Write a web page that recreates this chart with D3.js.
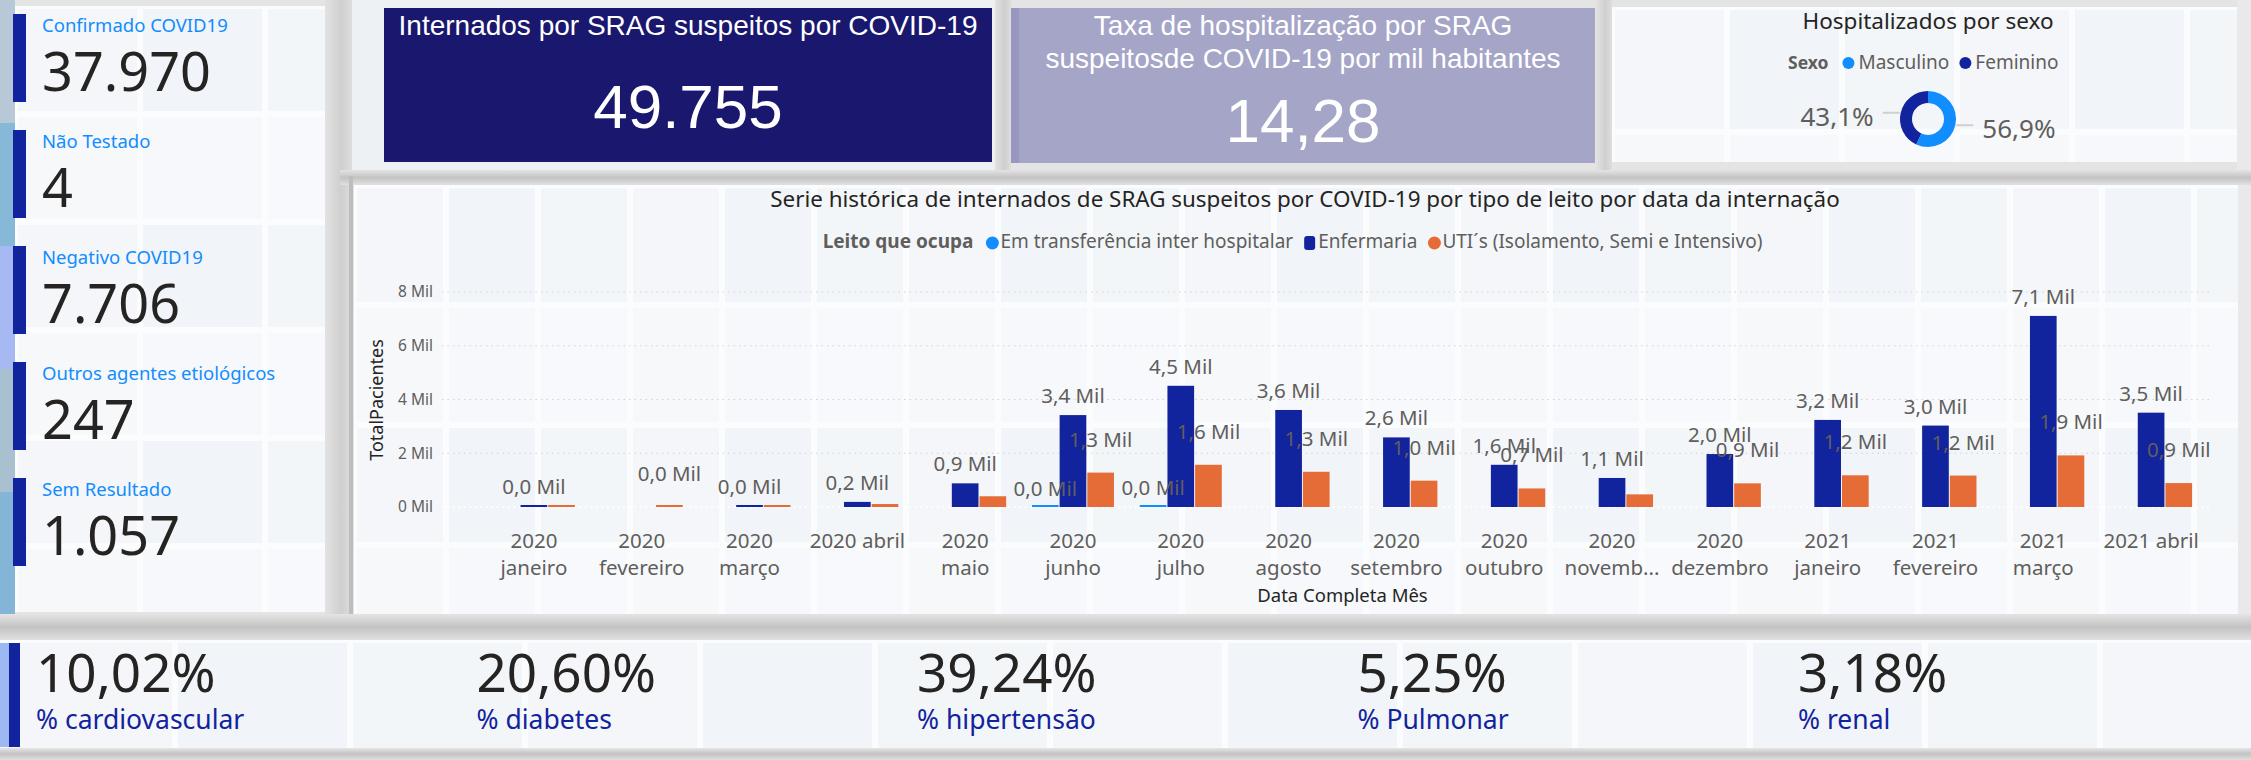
<!DOCTYPE html>
<html><head><meta charset="utf-8">
<script src="https://cdn.jsdelivr.net/npm/d3@7"></script>
<style>body{margin:0;background:#e4e4e4;overflow:hidden;} svg{display:block;}</style>
</head><body><svg id="c" width="2251" height="760"></svg>
<script>
// ---------------- DATA ----------------
const months = ["2020\njaneiro","2020\nfevereiro","2020\nmarço","2020 abril","2020\nmaio","2020\njunho","2020\njulho","2020\nagosto","2020\nsetembro","2020\noutubro","2020\nnovemb...","2020\ndezembro","2021\njaneiro","2021\nfevereiro","2021\nmarço","2021 abril"];
const seriesNames = ["Em transferência inter hospitalar","Enfermaria","UTI´s (Isolamento, Semi e Intensivo)"];
const transferValues   = [0, 0, 0, 0, 0, 15, 20, 0, 0, 0, 0, 0, 0, 0, 0, 0];
const enfermariaValues = [30, 0, 40, 190, 880, 3420, 4510, 3610, 2590, 1570, 1080, 1970, 3240, 3030, 7110, 3510];
const utiValues        = [20, 15, 30, 110, 400, 1280, 1570, 1310, 980, 690, 470, 880, 1180, 1170, 1920, 890];
// months (index) whose data label is visible in the reference
const transferLabelShown   = [5, 6];
const enfermariaLabelShown = [0, 2, 3, 4, 5, 6, 7, 8, 9, 10, 11, 12, 13, 14, 15];
const utiLabelShown        = [1, 5, 6, 7, 8, 9, 11, 12, 13, 14, 15];
const yTicks = [0, 2000, 4000, 6000, 8000];

const statLabels = ["Confirmado COVID19","Não Testado","Negativo COVID19","Outros agentes etiológicos","Sem Resultado"];
const statValues = [37970, 4, 7706, 247, 1057];

const kpiInternadosTitle = "Internados por SRAG suspeitos por COVID-19";
const kpiInternadosValue = 49755;
const kpiTaxaTitle = ["Taxa de hospitalização por SRAG","suspeitosde COVID-19 por mil habitantes"];
const kpiTaxaValue = 14.28;

const sexLabels = ["Masculino","Feminino"];
const sexValues = [56.9, 43.1];

const comorbLabels = ["% cardiovascular","% diabetes","% hipertensão","% Pulmonar","% renal"];
const comorbValues = [10.02, 20.60, 39.24, 5.25, 3.18];

// ---------------- STYLE ----------------
const SEGOE = "'Noto Sans','Open Sans',sans-serif";
const ARIAL = "'Liberation Sans',Arial,sans-serif";
const C_ENF = "#12239E", C_UTI = "#E66C37", C_TRF = "#118DFF";
const br = d3.formatLocale({decimal: ",", thousands: ".", grouping: [3], currency: ["R$", ""]});
const fInt = br.format(",d");
const f2 = br.format(",.2f");
const f1 = br.format(",.1f");

const svg = d3.select("#c");
const W = 2251, H = 760;

// ---------------- BACKGROUND ----------------
const defs = svg.append("defs");
const gH = defs.append("linearGradient").attr("id","bandH").attr("x1",0).attr("x2",0).attr("y1",0).attr("y2",1);
gH.append("stop").attr("offset","0").attr("stop-color","#e4e4e4");
gH.append("stop").attr("offset","0.5").attr("stop-color","#c3c3c3");
gH.append("stop").attr("offset","1").attr("stop-color","#e0e0e0");
const gV = defs.append("linearGradient").attr("id","bandV").attr("x1",0).attr("x2",1).attr("y1",0).attr("y2",0);
gV.append("stop").attr("offset","0").attr("stop-color","#e2e2e2");
gV.append("stop").attr("offset","0.6").attr("stop-color","#cfcfcf");
gV.append("stop").attr("offset","1").attr("stop-color","#dedede");

svg.append("rect").attr("width",W).attr("height",H).attr("fill","#e4e4e4");

const tilePalette = ["#f4f6fa","#f8f9fc","#f1f4f8","#f6f8fa","#f3f6f8","#f7f8fb"];
function tiles(x0, y0, w, h, cw, ch) {
  const g = svg.append("g");
  g.append("rect").attr("x",x0).attr("y",y0).attr("width",w).attr("height",h).attr("fill","#fbfcfd");
  const cells = [];
  for (let i = 0; i * cw < w; i++) for (let j = 0; j * ch < h; j++) cells.push({i, j});
  g.selectAll("rect.t").data(cells).join("rect").attr("class","t")
    .attr("x", d => x0 + d.i * cw + 3)
    .attr("y", d => y0 + d.j * ch + 3)
    .attr("width", d => Math.max(0, Math.min(cw - 6, x0 + w - (x0 + d.i * cw + 3))))
    .attr("height", d => Math.max(0, Math.min(ch - 6, y0 + h - (y0 + d.j * ch + 3))))
    .attr("fill", d => tilePalette[(d.i * 2 + d.j * 3) % tilePalette.length]);
}

// left strip
const stripColors = ["#b8c8d6","#86b8d8","#a6b9f3","#a9c0d0","#84b5d6"];
svg.selectAll("rect.strip").data(stripColors).join("rect").attr("class","strip")
  .attr("x",0).attr("y",(d,i)=>i*123).attr("width",15).attr("height",123).attr("fill",d=>d);
tiles(15, 6, 310, 606, 125, 108);
svg.append("rect").attr("x",325).attr("y",0).attr("width",27).attr("height",640).attr("fill","url(#bandV)");
// top row
svg.append("rect").attr("x",352).attr("y",0).attr("width",645).attr("height",172).attr("fill","#eef1f4");
svg.append("rect").attr("x",995).attr("y",0).attr("width",16).attr("height",172).attr("fill","url(#bandV)");
svg.append("rect").attr("x",1596).attr("y",0).attr("width",16).attr("height",172).attr("fill","url(#bandV)");
tiles(1612, 7, 625, 155, 115, 125);
svg.append("rect").attr("x",2237).attr("y",0).attr("width",14).attr("height",616).attr("fill","#e9e9e9");
// bands
svg.append("rect").attr("x",340).attr("y",170).attr("width",W-340).attr("height",15).attr("fill","url(#bandH)");
tiles(354, 185, 1884, 431, 92, 120);
svg.append("rect").attr("x",349).attr("y",176).attr("width",4).attr("height",462).attr("fill","#bdbdbd");
svg.append("rect").attr("x",0).attr("y",614).attr("width",W).attr("height",26).attr("fill","url(#bandH)");
tiles(0, 640, W, 108, 175, 120);
svg.append("rect").attr("x",0).attr("y",748).attr("width",W).attr("height",12).attr("fill","url(#bandH)");

// ---------------- LEFT STAT CARDS ----------------
const cards = svg.append("g").selectAll("g").data(statLabels).join("g")
  .attr("transform",(d,i)=>`translate(0,${14 + 116*i})`);
cards.append("rect").attr("x",13).attr("y",0).attr("width",13).attr("height",88).attr("fill",C_ENF);
cards.append("text").attr("x",42).attr("y",18).attr("font-family",SEGOE).attr("font-size",18.5)
  .attr("fill","#118DFF").text(d=>d);
cards.append("text").attr("x",42).attr("y",77).attr("font-family",SEGOE).attr("font-size",54)
  .attr("fill","#252423").text((d,i)=>fInt(statValues[i]));

// ---------------- KPI CARDS ----------------
svg.append("rect").attr("x",384).attr("y",8).attr("width",608).attr("height",154).attr("fill","#1a186e");
svg.append("text").attr("x",688).attr("y",35).attr("text-anchor","middle").attr("font-family",ARIAL)
  .attr("font-size",28).attr("fill","#fff").text(kpiInternadosTitle);
svg.append("text").attr("x",688).attr("y",128).attr("text-anchor","middle").attr("font-family",ARIAL)
  .attr("font-size",62).attr("fill","#fff").text(fInt(kpiInternadosValue));

svg.append("rect").attr("x",1011).attr("y",8).attr("width",584).attr("height",155).attr("fill","#a5a5c8");
svg.append("rect").attr("x",1011).attr("y",8).attr("width",8).attr("height",155).attr("fill","#9797bf");
svg.append("text").attr("x",1303).attr("y",35).attr("text-anchor","middle").attr("font-family",ARIAL)
  .attr("font-size",28).attr("fill","#fff")
  .selectAll("tspan").data(kpiTaxaTitle).join("tspan").attr("x",1303).attr("dy",(d,i)=>i?33:0).text(d=>d);
svg.append("text").attr("x",1303).attr("y",142).attr("text-anchor","middle").attr("font-family",ARIAL)
  .attr("font-size",62).attr("fill","#fff").text(f2(kpiTaxaValue));

// ---------------- DONUT ----------------
svg.append("text").attr("x",1928).attr("y",29).attr("text-anchor","middle").attr("font-family",SEGOE)
  .attr("font-size",22.5).attr("fill","#252423").text("Hospitalizados por sexo");
{
  const lg = svg.append("g");
  let x = 1788;
  const t0 = lg.append("text").attr("x",x).attr("y",69).attr("font-family",SEGOE).attr("font-size",17.5)
    .attr("font-weight","bold").attr("fill","#605e5c").text("Sexo");
  x += t0.node().getComputedTextLength() + 14;
  const sexColors = [C_TRF, C_ENF];
  sexLabels.forEach((s,i) => {
    lg.append("circle").attr("cx",x+6).attr("cy",63).attr("r",6).attr("fill",sexColors[i]);
    const t = lg.append("text").attr("x",x+16).attr("y",69).attr("font-family",SEGOE).attr("font-size",19)
      .attr("fill","#605e5c").text(s);
    x += 16 + t.node().getComputedTextLength() + 10;
  });
  const cx = 1928, cy = 119;
  const pie = d3.pie().sort(null).value(d=>d)(sexValues);
  const arc = d3.arc().innerRadius(16).outerRadius(28);
  const dg = svg.append("g").attr("transform",`translate(${cx},${cy})`);
  dg.selectAll("path").data(pie).join("path").attr("d",arc).attr("fill",(d,i)=>sexColors[i]);
  const edge = d3.arc().innerRadius(29).outerRadius(29);
  pie.forEach((d,i) => {
    const [px,py] = edge.centroid(d);
    const dir = px >= 0 ? 1 : -1;
    dg.append("line").attr("x1",px).attr("y1",py).attr("x2",px+dir*17).attr("y2",py)
      .attr("stroke","#cfcfcf").attr("stroke-width",2);
    dg.append("text").attr("x",px+dir*26).attr("y",py+13).attr("text-anchor",dir>0?"start":"end")
      .attr("font-family",SEGOE).attr("font-size",26).attr("fill","#605e5c").text(f1(d.data)+"%");
  });
}

// ---------------- BAR CHART ----------------
svg.append("text").attr("x",1305).attr("y",207).attr("text-anchor","middle").attr("font-family",SEGOE)
  .attr("font-size",22.4).attr("fill","#252423")
  .text("Serie histórica de internados de SRAG suspeitos por COVID-19 por tipo de leito por data da internação");

// legend
{
  const lg = svg.append("g");
  const legendColors = [C_TRF, C_ENF, C_UTI];
  const t0 = lg.append("text").attr("y",248).attr("font-family",SEGOE).attr("font-size",19)
    .attr("font-weight","bold").attr("fill","#605e5c").text("Leito que ocupa");
  let x = t0.node().getComputedTextLength() + 13;
  t0.attr("x",0);
  seriesNames.forEach((s,i) => {
    if (i === 1) lg.append("rect").attr("x",x).attr("y",236).attr("width",11).attr("height",14).attr("rx",3).attr("fill",legendColors[i]);
    else lg.append("circle").attr("cx",x+6).attr("cy",243).attr("r",6.5).attr("fill",legendColors[i]);
    const t = lg.append("text").attr("x",x+14).attr("y",248).attr("font-family",SEGOE).attr("font-size",19)
      .attr("fill","#605e5c").text(s);
    x += 14 + t.node().getComputedTextLength() + 11;
  });
  lg.attr("transform",`translate(${1298 - x/2},0)`);
}

const x = d3.scaleBand().domain(months).range([480, 2205]).paddingInner(0.23).paddingOuter(0.115);
const series = ["transfer","enf","uti"];
const xs = d3.scaleBand().domain(series).range([0, x.bandwidth()]);
const y = d3.scaleLinear().domain([0, 8000]).range([507, 292]);

// grid
svg.append("g").selectAll("line").data(yTicks).join("line")
  .attr("x1",442).attr("x2",2210).attr("y1",d=>y(d)).attr("y2",d=>y(d))
  .attr("stroke",(d)=>d===0?"#ffffff":"#d2d2d2").attr("stroke-width",(d)=>d===0?2:1.2).attr("stroke-dasharray","1.5,4");

// y axis
const yAxis = svg.append("g").attr("transform","translate(437,0)")
  .call(d3.axisLeft(y).tickValues(yTicks).tickSize(0).tickPadding(4).tickFormat(d => (d/1000) + " Mil"));
yAxis.select(".domain").remove();
yAxis.selectAll("text").attr("font-family",SEGOE).attr("font-size",15.5).attr("fill","#605e5c");
svg.append("text").attr("transform","translate(383,400) rotate(-90)").attr("text-anchor","middle")
  .attr("font-family",SEGOE).attr("font-size",18).attr("fill","#252423").text("TotalPacientes");

// x axis
const xAxis = svg.append("g").attr("transform","translate(0,507)")
  .call(d3.axisBottom(x).tickSize(0).tickPadding(0));
xAxis.select(".domain").remove();
xAxis.selectAll("text").attr("font-family",SEGOE).attr("font-size",20.5).attr("fill","#605e5c")
  .attr("dy",null).attr("y",41)
  .each(function(d){
    const t = d3.select(this); t.text(null);
    d.split("\n").forEach((line,i)=> t.append("tspan").attr("x",0).attr("dy",i?27:0).text(line));
  });
svg.append("text").attr("x",(480+2205)/2).attr("y",602).attr("text-anchor","middle")
  .attr("font-family",SEGOE).attr("font-size",18.5).attr("fill","#252423").text("Data Completa Mês");

// bars
const seriesData = [
  {key:"transfer", values: transferValues, color: C_TRF, shown: transferLabelShown, gap: 11},
  {key:"enf", values: enfermariaValues, color: C_ENF, shown: enfermariaLabelShown, gap: 12},
  {key:"uti", values: utiValues, color: C_UTI, shown: utiLabelShown, gap: 26}
];
const barsG = svg.append("g");
seriesData.forEach(s => {
  const data = months.map((m,i)=>({m, i, v: s.values[i]}));
  barsG.append("g").selectAll("rect").data(data.filter(d=>d.v>0)).join("rect")
    .attr("x", d => x(d.m) + xs(s.key) + 0.5)
    .attr("width", xs.bandwidth() - 1)
    .attr("y", d => Math.min(y(d.v), y(0) - 2))
    .attr("height", d => Math.max(y(0) - y(d.v), 2))
    .attr("fill", s.color);
});
const labelsG = svg.append("g");
seriesData.forEach(s => {
  const data = s.shown.map(i => ({m: months[i], v: s.values[i]}));
  labelsG.append("g").selectAll("text").data(data).join("text")
    .attr("x", d => x(d.m) + xs(s.key) + xs.bandwidth()/2)
    .attr("y", d => y(d.v) - s.gap)
    .attr("text-anchor","middle").attr("font-family",SEGOE).attr("font-size",20.5).attr("fill","#605e5c")
    .text(d => f1(d.v/1000) + " Mil");
});

// ---------------- BOTTOM COMORBIDITIES ----------------
svg.append("rect").attr("x",0).attr("y",643).attr("width",9).attr("height",104).attr("fill","#9db8f2");
svg.append("rect").attr("x",9).attr("y",643).attr("width",11).attr("height",104).attr("fill",C_ENF);
const cg = svg.append("g").selectAll("g").data(comorbLabels).join("g")
  .attr("transform",(d,i)=>`translate(${36 + 440.5*i},0)`);
cg.append("text").attr("x",0).attr("y",692).attr("font-family",SEGOE).attr("font-size",53)
  .attr("fill","#252423").text((d,i)=>f2(comorbValues[i])+"%");
cg.append("text").attr("x",0).attr("y",729).attr("font-family",SEGOE).attr("font-size",26.5)
  .attr("fill",C_ENF).text(d=>d);
</script>
</body></html>
